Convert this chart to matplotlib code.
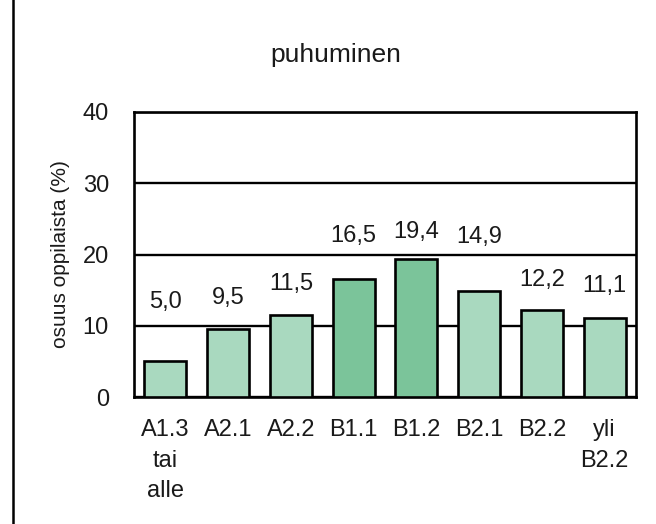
import matplotlib
matplotlib.use("Agg")
import matplotlib.pyplot as plt
from matplotlib.patches import Rectangle

plt.rcParams['font.family'] = ['Liberation Sans Narrow', 'Liberation Sans', 'DejaVu Sans']

# data
categories = ["A1.3\ntai\nalle", "A2.1", "A2.2", "B1.1", "B1.2", "B2.1", "B2.2", "yli\nB2.2"]
shares = [5.0, 9.5, 11.5, 16.5, 19.4, 14.9, 12.2, 11.1]
value_labels = ["5,0", "9,5", "11,5", "16,5", "19,4", "14,9", "12,2", "11,1"]
highlight = [False, False, False, True, True, False, False, False]

# label heights (data units) as placed in the original
label_y = [13.3, 13.9, 15.8, 22.6, 23.2, 22.5, 16.4, 15.6]

light = "#a9d9bf"
dark = "#7bc49a"

fig = plt.figure(figsize=(6.56, 5.24), dpi=100)
ax = fig.add_axes([134/656, 1 - 397/524, (636-134)/656, (397-112)/524])

x = range(len(categories))
colors = [dark if h else light for h in highlight]
ax.bar(x, shares, width=0.67, color=colors, edgecolor="black", linewidth=1.9, zorder=3)

for i, (lab, ly) in enumerate(zip(value_labels, label_y)):
    ax.text(i, ly, lab, ha="center", va="center", fontsize=17, color="#1a1a1a", zorder=4)

ax.set_ylim(0, 40)
ax.set_xlim(-0.5, len(categories) - 0.5)
ax.set_yticks([0, 10, 20, 30, 40])
ax.yaxis.grid(True, color="black", linewidth=1.7, zorder=0)
ax.set_xticks(list(x))
ax.set_xticklabels(categories, linespacing=1.5)
ax.tick_params(axis="both", length=0, labelsize=17, colors="#1a1a1a")
ax.tick_params(axis="x", pad=16)
ax.tick_params(axis="y", pad=18)
for s in ax.spines.values():
    s.set_linewidth(1.9)
ax.set_ylabel("osuus oppilaista (%)", fontsize=15, labelpad=9, color="#1a1a1a")

fig.text(336/656, 1 - 55/524, "puhuminen", ha="center", va="center", fontsize=19, color="#1a1a1a")

# outer frame (cut by the image on the right and bottom)
fig.patches.append(Rectangle((13/656, -0.2), 1.5, 1.2 + (1 - 8/524), transform=fig.transFigure,
                             fill=False, edgecolor="black", linewidth=1.8))

fig.savefig("out.png", dpi=100)
